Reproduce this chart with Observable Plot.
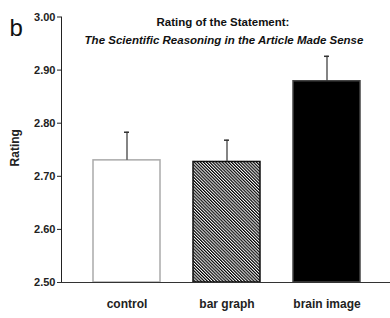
<!DOCTYPE html>
<html>
<head>
<meta charset="utf-8">
<script src="https://cdn.jsdelivr.net/npm/d3@7"></script>
<script src="https://cdn.jsdelivr.net/npm/@observablehq/plot@0.6"></script>
<style>
  html, body { margin: 0; padding: 0; background: #fff; }
  #chart svg { display: block; }
  #chart g[aria-label="y-axis tick label"] text { font-size: 11px; font-weight: bold; }
  #chart g[aria-label="x-axis tick label"] text { font-size: 12px; font-weight: bold; }
</style>
</head>
<body>
<div id="chart"></div>
<script>
const categories = ["control", "bar graph", "brain image"];
const means = [2.730, 2.727, 2.879];
const errors = [0.053, 0.041, 0.047];
const fills = ["#ffffff", "url(#hatch)", "#000000"];
const strokes = ["#aaaaaa", "#111111", "#444444"];
const yTicks = [2.5, 2.6, 2.7, 2.8, 2.9, 3.0];
const panelLabel = "b";
const titleLine1 = "Rating of the Statement:";
const titleLine2 = "The Scientific Reasoning in the Article Made Sense";
const yLabel = "Rating";

const data = categories.map((c, i) => ({
  cat: c, mean: means[i], err: errors[i], top: means[i] + errors[i],
  fill: fills[i], stroke: strokes[i]
}));

const font = "'Liberation Sans Narrow', 'Arial Narrow', 'Liberation Sans', Arial, sans-serif";

const chart = Plot.plot({
  width: 390,
  height: 318,
  marginLeft: 61,
  marginRight: 0,
  marginTop: 16.5,
  marginBottom: 36,
  style: { fontFamily: font, background: "#fff", color: "#222", overflow: "visible" },
  x: { domain: categories, paddingInner: 0.332, paddingOuter: 0.295, align: 0.52, label: null,
       tickSize: 0, tickPadding: 17, line: true },
  y: { domain: [2.5, 3.0], label: null, ticks: yTicks, tickFormat: d3.format(".2f"),
       tickSize: 4, tickPadding: 2, line: true },
  marks: [
    Plot.barY(data, { x: "cat", y1: 2.5, y2: "mean", fill: d => d.fill, stroke: d => d.stroke, strokeWidth: 1.5 }),
    Plot.ruleY([2.5], { stroke: "#333", strokeWidth: 1.2, insetLeft: -4 }),
    Plot.ruleX(data, { x: "cat", y1: "mean", y2: "top", stroke: "#333", strokeWidth: 1.2 }),
    Plot.tickY(data, { x: "cat", y: "top", stroke: "#333", strokeWidth: 1.5, insetLeft: 31, insetRight: 31 }),
    Plot.text([panelLabel], { frameAnchor: "top-left", dx: -52, dy: 2, fontSize: 24, fill: "#111" }),
    Plot.text([titleLine1], { frameAnchor: "top", dx: -3, dy: 0.5, fontSize: 11.5, fontWeight: "bold", fill: "#111" }),
    Plot.text([titleLine2], { frameAnchor: "top", dx: -2, dy: 19, fontSize: 11.5, fontWeight: "bold", fontStyle: "italic", fill: "#111" }),
    Plot.text([yLabel], { frameAnchor: "left", dx: -46, dy: -2, rotate: -90, textAnchor: "middle", fontSize: 12, fontWeight: "bold", fill: "#222" })
  ]
});

const svg = d3.select(chart);
const defs = svg.insert("defs", ":first-child");
const pat = defs.append("pattern")
  .attr("id", "hatch")
  .attr("patternUnits", "userSpaceOnUse")
  .attr("width", 2.2)
  .attr("height", 2.2)
  .attr("patternTransform", "rotate(-45)");
pat.append("rect").attr("width", 2.2).attr("height", 2.2).attr("fill", "#fff");
pat.append("rect").attr("width", 1.2).attr("height", 2.2).attr("fill", "#000");

document.getElementById("chart").appendChild(chart);
</script>
</body>
</html>
